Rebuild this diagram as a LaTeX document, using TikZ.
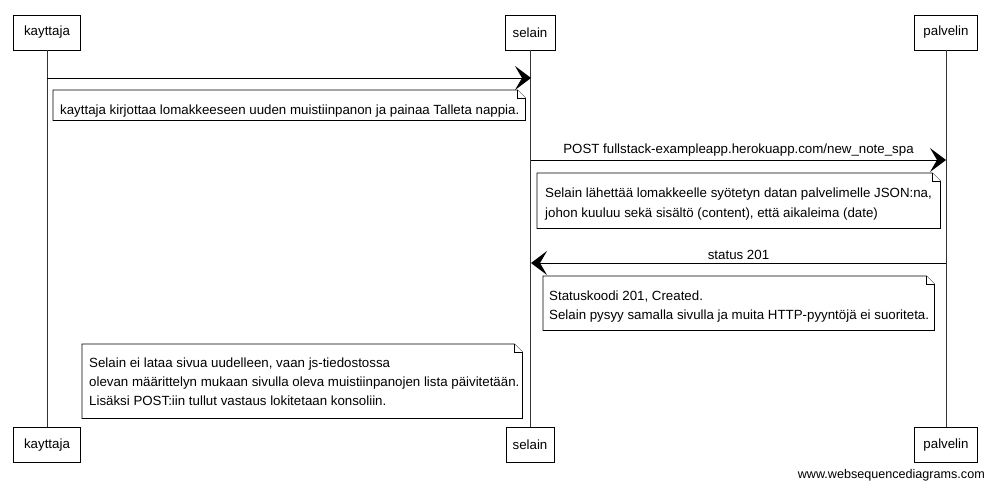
\documentclass[tikz,border=0pt]{standalone}
\usepackage{fontspec}
\setmainfont{Liberation Sans}
\usetikzlibrary{arrows.meta,calc}
\newcommand\foldnote[1]{%
  \draw[noteline] (#1.north west) -- ([xshift=-8pt]#1.north east) -- ([yshift=-8pt]#1.north east) -- (#1.south east) -- (#1.south west) -- cycle;
  \draw[noteline, line width=0.5pt] ([xshift=-8pt]#1.north east) -- ([xshift=-8pt,yshift=-8pt]#1.north east) -- ([yshift=-8pt]#1.north east);}
\begin{document}
\begin{tikzpicture}[x=1pt,y=-1pt,
  actor/.style={draw, line width=0.8pt, fill=white, inner sep=0pt, minimum height=35pt, font=\fontsize{13.3}{15}\selectfont},
  life/.style={draw, line width=0.7pt, black!80},
  msg/.style={draw, line width=1pt, -{Stealth[length=16pt,width=24pt,inset=7pt]}},
  msglabel/.style={font=\fontsize{13.3}{15}\selectfont, inner sep=1pt, above},
  notetxt/.style={anchor=north west, inner sep=0pt, align=left, font=\fontsize{13.3}{19.5}\selectfont},
  noteline/.style={line width=0.8pt, fill=white},
  wm/.style={font=\fontsize{12.6}{14}\selectfont}]
\useasboundingbox (0,0) rectangle (993,490);
% participants top
\node[actor, minimum width=67pt] (k1) at (47,32.5) {kayttaja};
\node[actor, minimum width=50pt] (s1) at (530,32.5) {selain};
\node[actor, minimum width=63pt] (p1) at (946,32.5) {palvelin};
% participants bottom
\node[actor, minimum width=67pt] (k2) at (47,445) {kayttaja};
\node[actor, minimum width=48pt] (s2) at (530,445) {selain};
\node[actor, minimum width=63pt] (p2) at (946,445) {palvelin};
% lifelines
\draw[life] (k1.south) -- (k2.north);
\draw[life] (s1.south) -- (s2.north);
\draw[life] (p1.south) -- (p2.north);
% message 1
\coordinate (m1a) at (47,78);
\coordinate (m1b) at (531,78);
\draw[msg] (m1a) -- (m1b);
% note 1
\node[notetxt, minimum width=472pt, minimum height=30pt] (n1) at (53,90) {};
\foldnote{n1}
\node[anchor=west, inner sep=0pt, font=\fontsize{13.3}{15}\selectfont] (n1t) at (60,111) {kayttaja kirjottaa lomakkeeseen uuden muistiinpanon ja painaa Talleta nappia.};
% message 2
\coordinate (m2a) at (531,160);
\coordinate (m2b) at (946,160);
\draw[msg] (m2a) -- (m2b) node[msglabel, midway, yshift=2pt] (l2) {POST fullstack-exampleapp.herokuapp.com/new\_note\_spa};
% note 2
\node[notetxt, minimum width=403pt, minimum height=55pt] (n2) at (537,173) {};
\foldnote{n2}
\node[notetxt] (n2t) at (545,188) {Selain lähettää lomakkeelle syötetyn datan palvelimelle JSON:na,\\johon kuuluu sekä sisältö (content), että aikaleima (date)};
% message 3
\coordinate (m3a) at (946,263);
\coordinate (m3b) at (531,263);
\draw[msg] (m3a) -- (m3b) node[msglabel, midway, yshift=2pt] (l3) {status 201};
% note 3
\node[notetxt, minimum width=391pt, minimum height=54pt] (n3) at (543,276) {};
\foldnote{n3}
\node[notetxt, font=\fontsize{13.3}{18.5}\selectfont] (n3t) at (549,291) {Statuskoodi 201, Created.\\Selain pysyy samalla sivulla ja muita HTTP-pyyntöjä ei suoriteta.};
% note 4
\node[notetxt, minimum width=440pt, minimum height=74pt] (n4) at (82,344) {};
\foldnote{n4}
\node[notetxt, font=\fontsize{13.3}{19}\selectfont] (n4t) at (89,358) {Selain ei lataa sivua uudelleen, vaan js-tiedostossa\\olevan määrittelyn mukaan sivulla oleva muistiinpanojen lista päivitetään.\\Lisäksi POST:iin tullut vastaus lokitetaan konsoliin.};
% watermark
\node[wm, anchor=east, inner sep=0pt] (wm) at (985,475) {www.websequencediagrams.com};
\end{tikzpicture}
\end{document}
